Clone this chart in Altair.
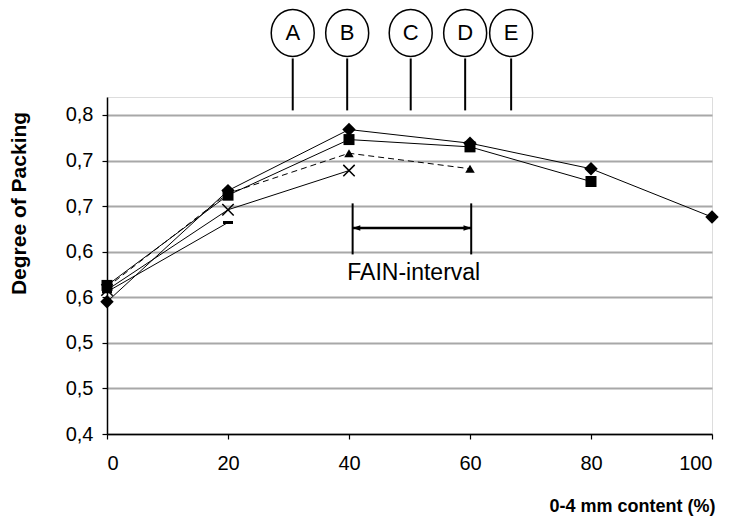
import altair as alt
import pandas as pd

# ---- data ----
x_vals = [0, 20, 40, 60, 80, 100]
diamond_vals = [0.545, 0.667, 0.734, 0.719, 0.691, 0.638]
square_vals = [0.563, 0.662, 0.723, 0.715, 0.677]
triangle_vals = [0.561, 0.664, 0.708, 0.691]
cross_vals = [0.558, 0.646, 0.689]
dash_vals = [0.556, 0.632]

y_ticks = [0.40, 0.45, 0.50, 0.55, 0.60, 0.65, 0.70, 0.75]
y_tick_labels = ["0,4", "0,5", "0,5", "0,6", "0,6", "0,7", "0,7", "0,8"]
x_ticks = [0, 20, 40, 60, 80, 100]

zone_labels = ["A", "B", "C", "D", "E"]
zone_x = [30.7, 39.7, 50.2, 59.2, 66.8]
zone_line_bottom = 0.755
zone_line_top = 0.812
zone_circle_y = 0.84

fain_x = [40.6, 60.2]
fain_y_low = 0.597
fain_y_high = 0.653
fain_arrow_y = 0.626
fain_label = "FAIN-interval"
fain_label_x = 50.7
fain_label_y = 0.577

x_title = "0-4 mm content (%)"
y_title = "Degree of Packing"

FONT = "Liberation Sans"

# ---- tables ----
def series_df(name, vals):
    return pd.DataFrame({"series": name, "x": x_vals[:len(vals)], "y": vals})

df_diamond = series_df("diamond", diamond_vals)
df_square = series_df("square", square_vals)
df_triangle = series_df("triangle", triangle_vals)
df_cross = series_df("cross", cross_vals)
df_dash = series_df("dash", dash_vals)
df_solid = pd.concat([df_diamond, df_square, df_cross, df_dash], ignore_index=True)

zones = pd.DataFrame({"label": zone_labels, "x": zone_x,
                      "y1": zone_line_bottom, "y2": zone_line_top, "yc": zone_circle_y})
fain_rules = pd.DataFrame({"x": fain_x, "y1": fain_y_low, "y2": fain_y_high})
fain_arrow = pd.DataFrame({"x": [fain_x[0]], "x2": [fain_x[1]], "y": [fain_arrow_y]})
fain_heads = pd.DataFrame({"x": fain_x, "y": fain_arrow_y, "side": ["L", "R"]})
fain_text = pd.DataFrame({"x": [fain_label_x], "y": [fain_label_y], "t": [fain_label]})

label_expr = "[" + ",".join("'%s'" % s for s in y_tick_labels) + "][round((datum.value-0.4)/0.05)]"

x_scale = alt.Scale(domain=[0, 100], nice=False, zero=False)
y_scale = alt.Scale(domain=[0.4, 0.7697], nice=False, zero=False)

x_axis = alt.Axis(values=x_ticks, grid=False, title=x_title, labelFontSize=20, labelFont=FONT,
                  labelColor="black", tickColor="black", tickSize=5, labelPadding=14,
                  domainColor="black", domainWidth=1.5, tickWidth=1.2,
                  titleFont=FONT, titleFontSize=18, titleFontWeight="bold", titleColor="black",
                  titleAnchor="end", titleAlign="right", titleBaseline="middle",
                  titleX=608, titleY=72)
y_axis = alt.Axis(values=y_ticks, grid=True, gridColor="#a8a8a8", gridWidth=2,
                  labelExpr=label_expr, labelFontSize=20, labelFont=FONT, labelColor="black",
                  tickColor="black", tickSize=5, labelPadding=9, tickWidth=1.2,
                  domainColor="black", domainWidth=1.5, title=y_title,
                  titleFont=FONT, titleFontSize=21, titleFontWeight="bold", titleColor="black",
                  titleAngle=-90, titleAlign="center", titleBaseline="middle",
                  titleX=-88, titleY=106)

X = alt.X("x:Q", scale=x_scale, axis=x_axis)
Y = alt.Y("y:Q", scale=y_scale, axis=y_axis)

lines_solid = alt.Chart(df_solid).mark_line(color="black", strokeWidth=1).encode(
    x=X, y=Y, detail="series:N")
lines_dashed = alt.Chart(df_triangle).mark_line(color="black", strokeWidth=1, strokeDash=[6, 4]).encode(
    x=X, y=Y)

pt_dash = alt.Chart(df_dash).mark_point(shape="M-1,-0.3L1,-0.3L1,0.3L-1,0.3Z", filled=True,
                                        color="black", size=100, opacity=1).encode(x=X, y=Y)
pt_cross = alt.Chart(df_cross).mark_point(shape="M-1,-1L1,1M1,-1L-1,1", filled=False,
                                          color="black", size=130, strokeWidth=1.5, opacity=1).encode(x=X, y=Y)
pt_triangle = alt.Chart(df_triangle).mark_point(shape="triangle-up", filled=True,
                                                color="black", size=90, opacity=1).encode(x=X, y=Y)
pt_square = alt.Chart(df_square).mark_point(shape="square", filled=True,
                                            color="black", size=121, opacity=1).encode(x=X, y=Y)
pt_diamond = alt.Chart(df_diamond).mark_point(shape="diamond", filled=True,
                                              color="black", size=180, opacity=1).encode(x=X, y=Y)

zone_rules = alt.Chart(zones).mark_rule(color="black", strokeWidth=2).encode(
    x=X, y=alt.Y("y1:Q", scale=y_scale, axis=y_axis), y2="y2:Q")
ellipse = "M-0.915,0A0.915,1,0,1,1,0.915,0A0.915,1,0,1,1,-0.915,0Z"
zone_circles = alt.Chart(zones).mark_point(shape=ellipse, filled=False, color="black",
                                           size=2209, strokeWidth=1.5, opacity=1).encode(
    x=X, y=alt.Y("yc:Q", scale=y_scale, axis=y_axis))
zone_text = alt.Chart(zones).mark_text(font=FONT, fontSize=22, color="black",
                                       baseline="middle", align="center").encode(
    x=X, y=alt.Y("yc:Q", scale=y_scale, axis=y_axis), text="label:N")

fain_v = alt.Chart(fain_rules).mark_rule(color="black", strokeWidth=2).encode(
    x=X, y=alt.Y("y1:Q", scale=y_scale, axis=y_axis), y2="y2:Q")
fain_h = alt.Chart(fain_arrow).mark_rule(color="black", strokeWidth=2.5).encode(
    x=X, x2="x2:Q", y=Y)
head_l = alt.Chart(fain_heads[fain_heads.side == "L"]).mark_point(
    shape="M0,0L2.2,-0.8L2.2,0.8Z", filled=True, color="black", size=49, opacity=1).encode(x=X, y=Y)
head_r = alt.Chart(fain_heads[fain_heads.side == "R"]).mark_point(
    shape="M0,0L-2.2,-0.8L-2.2,0.8Z", filled=True, color="black", size=49, opacity=1).encode(x=X, y=Y)
fain_t = alt.Chart(fain_text).mark_text(font=FONT, fontSize=23, color="black",
                                        baseline="middle", align="center").encode(
    x=X, y=Y, text="t:N")

chart = alt.layer(
    lines_solid, lines_dashed,
    pt_dash, pt_cross, pt_triangle, pt_square, pt_diamond,
    zone_rules, zone_circles, zone_text,
    fain_v, fain_h, head_l, head_r, fain_t,
).properties(
    width=605, height=337,
    autosize=alt.AutoSizeParams(type="none"),
    padding={"left": 99, "top": 89, "right": 11, "bottom": 85},
).configure_view(stroke="#a8a8a8", strokeWidth=2).configure(background="white")

chart.save("out.html", embed_options={"renderer": "svg", "actions": False})
